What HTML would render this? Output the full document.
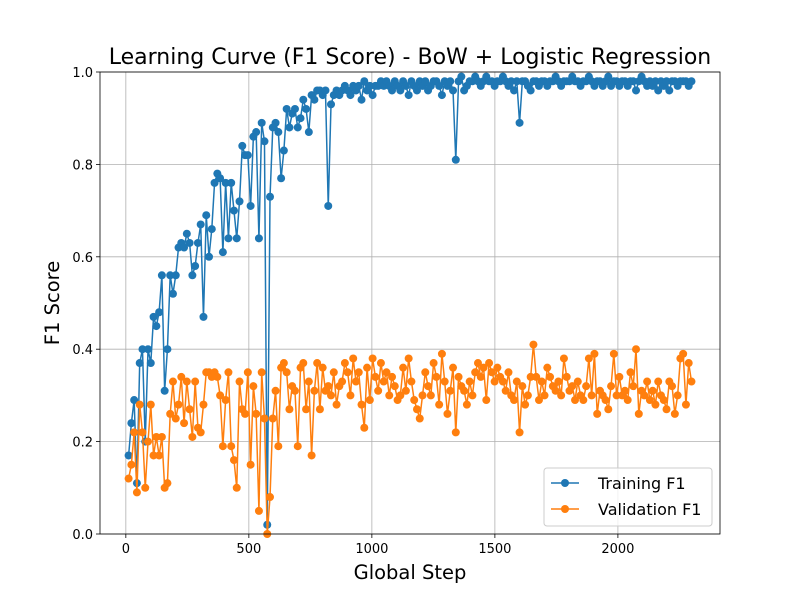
<!DOCTYPE html>
<html><head><meta charset="utf-8"><style>
body{margin:0;background:#fff;font-family:"Liberation Sans","DejaVu Sans",sans-serif;}
svg text{font-family:"DejaVu Sans","Liberation Sans",sans-serif;}
</style></head><body>
<svg id="chart" width="800" height="600" viewBox="0 0 800 600">
<rect width="800" height="600" fill="#fff"/>
<text x="410" y="64" text-anchor="middle" font-size="22">Learning Curve (F1 Score) - BoW + Logistic Regression</text>
<g id="grid"></g><g id="series"></g><g id="axes"></g>
<text x="410" y="579" text-anchor="middle" font-size="19.5">Global Step</text>
<text transform="translate(59,303) rotate(-90)" text-anchor="middle" font-size="19.5">F1 Score</text>
<g>
<rect x="544" y="468" width="168" height="58" rx="3" fill="#fff" fill-opacity="0.8" stroke="#ccc"/>
<g><line x1="551" y1="483" x2="579" y2="483" stroke="#1f77b4" stroke-width="1.5"/><circle cx="565" cy="483" r="4" fill="#1f77b4"/><text x="598" y="489" font-size="16">Training F1</text></g>
<g><line x1="551" y1="509" x2="579" y2="509" stroke="#ff7f0e" stroke-width="1.5"/><circle cx="565" cy="509" r="4" fill="#ff7f0e"/><text x="598" y="515" font-size="16">Validation F1</text></g>
</g>
</svg>
<script>
const trainF1=[0.17,0.24,0.29,0.11,0.37,0.40,0.20,0.40,0.37,0.47,0.45,0.48,0.56,0.31,0.40,0.56,0.52,0.56,0.62,0.63,0.62,0.65,0.63,0.56,0.58,0.63,0.67,0.47,0.69,0.60,
0.66,0.76,0.78,0.77,0.61,0.76,0.64,0.76,0.70,0.64,0.72,0.84,0.82,0.82,0.71,0.86,0.87,0.64,0.89,0.85,0.02,0.73,0.88,0.89,0.87,0.77,0.83,0.92,0.88,0.91,
0.92,0.88,0.90,0.94,0.92,0.87,0.95,0.94,0.96,0.96,0.95,0.96,0.71,0.93,
0.95,0.96,0.95,0.96,0.97,0.96,0.95,0.97,0.96,0.97,
0.94,0.98,0.96,0.97,0.95,0.97,0.97,0.98,0.97,0.98,
0.97,0.96,0.98,0.97,0.96,0.98,0.97,0.95,0.98,0.97,
0.96,0.98,0.97,0.98,0.96,0.97,0.98,0.98,0.97,0.95,
0.98,0.97,0.98,0.96,
0.81,
0.98,0.99,0.96,0.97,0.98,0.98,0.99,0.98,0.97,0.98,0.99,0.98,0.98,0.97,0.98,0.98,0.99,0.98,0.97,0.98,0.96,0.98,
0.89,
0.98,0.98,0.97,0.96,0.98,0.98,0.97,0.98,0.98,0.97,
0.98,0.98,0.99,0.98,0.97,0.98,0.98,0.98,0.99,0.98,
0.98,0.97,0.98,0.98,0.99,0.98,0.97,0.98,0.98,0.97,
0.98,0.99,0.97,0.98,0.98,0.97,0.98,0.98,0.97,0.98,
0.98,0.96,0.98,0.99,0.98,0.97,0.98,0.97,0.98,0.96,
0.98,0.97,0.98,0.96,0.98,0.98,0.97,0.98,0.98,0.98,
0.97,0.98];
const valF1=[0.12,0.15,0.22,0.09,0.28,0.22,0.10,0.20,0.28,0.17,0.21,0.17,0.21,0.10,0.11,0.26,0.33,0.25,0.28,0.34,0.24,0.33,0.27,0.21,0.33,0.23,0.22,0.28,0.35,0.35,
0.34,0.35,0.34,0.30,0.19,0.29,0.35,0.19,0.16,0.10,0.33,0.27,0.26,0.35,0.15,0.32,0.26,0.05,0.35,0.25,0.00,0.08,0.25,0.31,0.19,0.36,0.37,0.35,0.27,0.32,
0.31,0.19,0.36,0.37,0.27,0.33,0.17,0.31,0.37,0.27,
0.36,0.31,0.32,0.30,0.35,0.28,0.32,0.33,0.37,0.35,
0.30,0.38,0.33,0.35,0.28,0.23,0.36,0.29,0.38,0.34,
0.31,0.37,0.33,0.35,0.30,0.34,0.32,0.29,0.30,0.36,
0.31,0.38,0.33,0.29,0.27,0.25,0.30,0.35,0.32,0.30,
0.37,0.34,0.28,0.39,0.33,0.26,0.31,0.36,
0.22,
0.34,0.32,0.31,0.28,0.33,0.30,0.35,0.37,0.34,0.36,0.29,
0.37,0.35,0.33,0.36,0.34,0.33,0.31,0.35,0.30,0.29,0.33,
0.22,
0.32,0.28,0.30,0.34,0.41,0.34,0.29,0.33,
0.30,0.36,0.34,0.32,0.31,0.33,0.30,0.38,0.34,0.31,
0.32,0.29,0.33,0.30,0.29,0.32,0.38,0.30,0.39,0.26,
0.31,0.30,0.29,0.27,0.32,0.39,0.30,0.34,0.30,0.31,
0.29,0.35,0.32,0.40,0.26,0.31,0.30,0.33,0.29,0.31,
0.28,0.33,0.30,0.29,0.27,0.33,0.32,0.26,0.30,0.38,
0.39,0.28,0.37,0.33];
const stepInterval=11.27;
const xTicks=[0,500,1000,1500,2000];
const yTicks=[0.0,0.2,0.4,0.6,0.8,1.0];
const yTickLabels=["0.0","0.2","0.4","0.6","0.8","1.0"];

const L=100,R=720,T=72,B=534,xMin=-105,xMax=2415;
const xs=v=>L+(v-xMin)/(xMax-xMin)*(R-L);
const ys=v=>B-v*(B-T);
const NS="http://www.w3.org/2000/svg";
function mk(tag,attrs,parent){const e=document.createElementNS(NS,tag);for(const k in attrs)e.setAttribute(k,attrs[k]);parent.appendChild(e);return e;}
const grid=document.getElementById('grid'),axes=document.getElementById('axes'),ser=document.getElementById('series');
xTicks.forEach(t=>{
  const gl=mk('line',{x1:xs(t),x2:xs(t),y1:T,y2:B,stroke:'#b0b0b0','stroke-width':0.8},grid);
  
  
  mk('line',{x1:xs(t),x2:xs(t),y1:B,y2:B+4,stroke:'#000','stroke-width':0.8},axes);
  const tx=mk('text',{x:xs(t),y:B+19,'text-anchor':'middle','font-size':13},axes);
  tx.textContent=t;
  
  
});
yTicks.forEach((t,i)=>{
  const gl=mk('line',{x1:L,x2:R,y1:ys(t),y2:ys(t),stroke:'#b0b0b0','stroke-width':0.8},grid);
  
  
  mk('line',{x1:L-4,x2:L,y1:ys(t),y2:ys(t),stroke:'#000','stroke-width':0.8},axes);
  const tx=mk('text',{x:L-7,y:ys(t)+5,'text-anchor':'end','font-size':13},axes);
  tx.textContent=yTickLabels[i];
  
  
});
const frame=mk('rect',{x:L,y:T,width:R-L,height:B-T,fill:'none',stroke:'#000','stroke-width':0.8},axes);


function draw(vals,color,name){
  const g=mk('g',{},ser);
  
  
  const pts=vals.map((v,i)=>xs((i+1)*stepInterval).toFixed(2)+','+ys(v).toFixed(2)).join(' ');
  const pl=mk('polyline',{points:pts,fill:'none',stroke:color,'stroke-width':1.5,'stroke-linejoin':'round'},g);
  
  
  vals.forEach((v,i)=>{
    const c=mk('circle',{cx:xs((i+1)*stepInterval),cy:ys(v),r:4,fill:color},g);
    
    
  });
}
draw(trainF1,'#1f77b4','training-f1-series');
draw(valF1,'#ff7f0e','validation-f1-series');
</script>
</body></html>
